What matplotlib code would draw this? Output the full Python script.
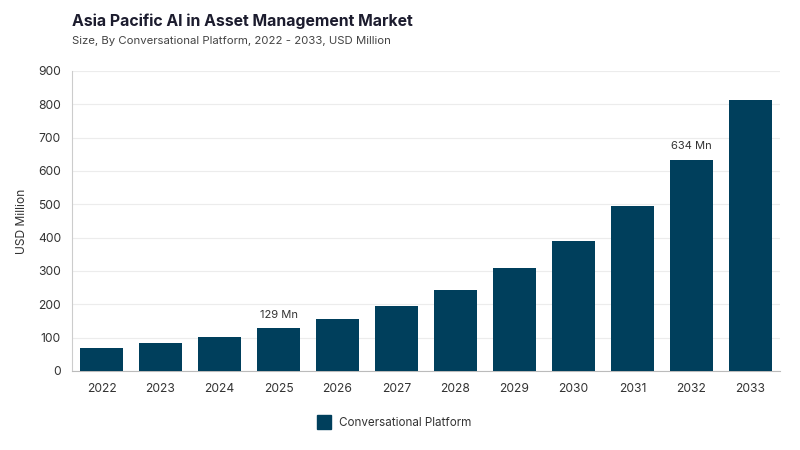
import matplotlib
matplotlib.use("Agg")
import matplotlib.pyplot as plt
from matplotlib.lines import Line2D

years = ["2022", "2023", "2024", "2025", "2026", "2027",
         "2028", "2029", "2030", "2031", "2032", "2033"]
values = [69, 84, 103, 129, 157, 195, 243, 308, 389, 494, 634, 812]
labelled = {"2025": "129 Mn", "2032": "634 Mn"}

bar_color = "#003f5c"
text_color = "#333333"

plt.rcParams["font.family"] = ["Inter", "DejaVu Sans"]

fig = plt.figure(figsize=(8, 4.5), dpi=100)
ax = fig.add_axes([0.09, 0.1756, 0.885, 0.667])

x = range(len(years))
ax.bar(x, values, width=0.72, color=bar_color, zorder=3)

for i, (yr, v) in enumerate(zip(years, values)):
    if yr in labelled:
        ax.text(i, v + 25, labelled[yr], ha="center", va="bottom",
                fontsize=8, color=text_color)

ax.set_xlim(-0.5, 11.5)
ax.set_ylim(0, 900)
ax.set_yticks(range(0, 901, 100))
ax.set_xticks(list(x))
ax.set_xticklabels(years)
ax.tick_params(axis="both", length=0, labelsize=8.7, colors=text_color)
ax.tick_params(axis="x", pad=9)
ax.tick_params(axis="y", pad=8)
ax.grid(axis="y", color="#ececec", linewidth=0.8, zorder=0)
for s in ["top", "right"]:
    ax.spines[s].set_visible(False)
ax.spines["left"].set_color("#cccccc")
ax.spines["bottom"].set_color("#bbbbbb")
ax.set_ylabel("USD Million", fontsize=8.7, color=text_color, labelpad=7)

fig.text(0.09, 0.952, "Asia Pacific AI in Asset Management Market",
         fontsize=11.4, fontweight="bold", color="#1c1c2e", va="center")
fig.text(0.09, 0.908, "Size, By Conversational Platform, 2022 - 2033, USD Million",
         fontsize=8.2, color="#444444", va="center")

handle = Line2D([], [], marker="s", linestyle="none", markersize=10,
                markerfacecolor=bar_color, markeredgecolor=bar_color)
fig.legend([handle], ["Conversational Platform"], loc="center",
           bbox_to_anchor=(0.49, 0.06), frameon=False, fontsize=8.4,
           handletextpad=0.3, labelcolor=text_color)

fig.savefig("out.png", dpi=100)
